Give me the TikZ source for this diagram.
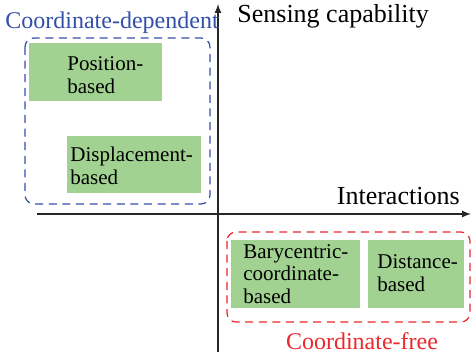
\documentclass[tikz,border=0pt]{standalone}
\usepackage{fontspec}
\setmainfont{LiberationSerif}[Extension=.ttf, UprightFont=*-Regular, BoldFont=*-Bold, ItalicFont=*-Italic, BoldItalicFont=*-BoldItalic]
\begin{document}
\begin{tikzpicture}[x=0.5pt,y=-0.5pt,
  axisline/.style={draw=black!85, line width=0.55pt, -latex},
  catbox/.style={fill=boxgreen, draw=none, inner sep=0pt, anchor=north west},
  boxtext/.style={anchor=west, align=left, inner sep=0pt, font=\fontsize{10.5}{11.2}\selectfont},
  group/.style={dash pattern=on 4pt off 2.8pt, line width=0.6pt, rounded corners=4.5pt},
  axislabel/.style={inner sep=0pt, font=\fontsize{13}{15}\selectfont},
  grouplabel/.style={inner sep=0pt, font=\fontsize{12}{14}\selectfont}]
\definecolor{boxgreen}{RGB}{161,210,145}
\definecolor{depblue}{RGB}{50,80,170}
\definecolor{freered}{RGB}{235,40,45}
\useasboundingbox (0,0) rectangle (472,358);

% axes
\coordinate (xs) at (37,214);
\coordinate (xe) at (471,214);
\coordinate (ys) at (218,352);
\coordinate (ye) at (218,4);
\draw[axisline] (xs) -- (xe);
\draw[axisline] (ys) -- (ye);
\node[axislabel, anchor=west] (sens) at (237,16) {Sensing capability};
\node[axislabel, anchor=east] (inter) at (460,196) {Interactions};

% coordinate-dependent group (sizes in pt = half the picture units)
\node[catbox, minimum width=66.5pt, minimum height=29pt] (posbox) at (29,43) {};
\node[boxtext] (postext) at (67,75) {\fontsize{10.5}{12.2}\selectfont Position-\\based};
\node[catbox, minimum width=67pt, minimum height=28.5pt] (dispbox) at (67,136) {};
\node[boxtext] (disptext) at (70,166) {Displacement-\\based};
\draw[group, draw=depblue] (25,38) rectangle (210,204);
\node[grouplabel, text=depblue, anchor=west] (deplabel) at (5,23) {Coordinate-dependent};

% coordinate-free group
\node[catbox, minimum width=64.5pt, minimum height=34pt] (barybox) at (231,240) {};
\node[boxtext] (barytext) at (243,274) {Barycentric-\\coordinate-\\based};
\node[catbox, minimum width=48pt, minimum height=34pt] (distbox) at (368,240) {};
\node[boxtext] (disttext) at (377,273) {Distance-\\based};
\draw[group, draw=freered] (227,232) rectangle (470,322);
\node[grouplabel, text=freered, anchor=center] (freelabel) at (362,341) {Coordinate-free};
\end{tikzpicture}
\end{document}
